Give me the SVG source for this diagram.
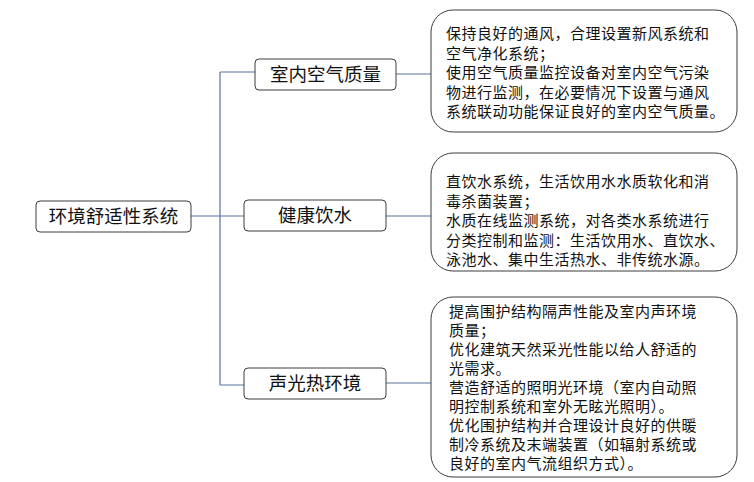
<svg xmlns="http://www.w3.org/2000/svg" width="754" height="482" viewBox="0 0 754 482">
<style>
.b{fill:#fff;stroke:#3c3c3c;stroke-width:1}
.t{font-family:"Noto Sans CJK SC",sans-serif;fill:#111}
.n{font-size:18.5px}
.d{font-size:15px;letter-spacing:0.5px}
.c{fill:none;stroke:#5874a0;stroke-width:1.2}
</style>
<rect width="754" height="482" fill="#fff"/>
<g id="connectors">
<path class="c" d="M191 216H220M220 72V385M220 72H255M220 216H244M220 385H244M396 74H431M386 216H431M386 383H431"/>
</g>
<g id="root"><rect class="b" x="36" y="201" width="155" height="31" rx="4"/><text class="t n" x="113.5" y="223" text-anchor="middle">环境舒适性系统</text></g>
<g id="air"><rect class="b" x="255" y="59" width="141" height="31" rx="4"/><text class="t n" x="325.5" y="81" text-anchor="middle">室内空气质量</text></g>
<g id="water"><rect class="b" x="244" y="200" width="142" height="31" rx="4"/><text class="t n" x="315" y="222" text-anchor="middle">健康饮水</text></g>
<g id="env"><rect class="b" x="244" y="368" width="142" height="31" rx="4"/><text class="t n" x="315" y="390" text-anchor="middle">声光热环境</text></g>
<g id="air-detail"><rect class="b" x="431" y="10" width="306" height="122" rx="22"/>
<text class="t d"><tspan x="446" y="39">保持良好的通风，合理设置新风系统和</tspan><tspan x="446" y="58.5">空气净化系统；</tspan><tspan x="446" y="78">使用空气质量监控设备对室内空气污染</tspan><tspan x="446" y="97.5">物进行监测，在必要情况下设置与通风</tspan><tspan x="446" y="117">系统联动功能保证良好的室内空气质量。</tspan></text></g>
<g id="water-detail"><rect class="b" x="431" y="153" width="306" height="118" rx="22"/>
<text class="t d"><tspan x="446" y="187">直饮水系统，生活饮用水水质软化和消</tspan><tspan x="446" y="206.5">毒杀菌装置；</tspan><tspan x="446" y="226">水质在线监测系统，对各类水系统进行</tspan><tspan x="446" y="245.5">分类控制和监测：生活饮用水、直饮水、</tspan><tspan x="446" y="265">泳池水、集中生活热水、非传统水源。</tspan></text></g>
<g id="env-detail"><rect class="b" x="431" y="297" width="306" height="180" rx="22"/>
<text class="t d"><tspan x="449" y="317">提高围护结构隔声性能及室内声环境</tspan><tspan x="449" y="336">质量；</tspan><tspan x="449" y="355">优化建筑天然采光性能以给人舒适的</tspan><tspan x="449" y="374">光需求。</tspan><tspan x="449" y="393">营造舒适的照明光环境（室内自动照</tspan><tspan x="449" y="412">明控制系统和室外无眩光照明）。</tspan><tspan x="449" y="431">优化围护结构并合理设计良好的供暖</tspan><tspan x="449" y="450">制冷系统及末端装置（如辐射系统或</tspan><tspan x="449" y="469">良好的室内气流组织方式）。</tspan></text></g>
</svg>
